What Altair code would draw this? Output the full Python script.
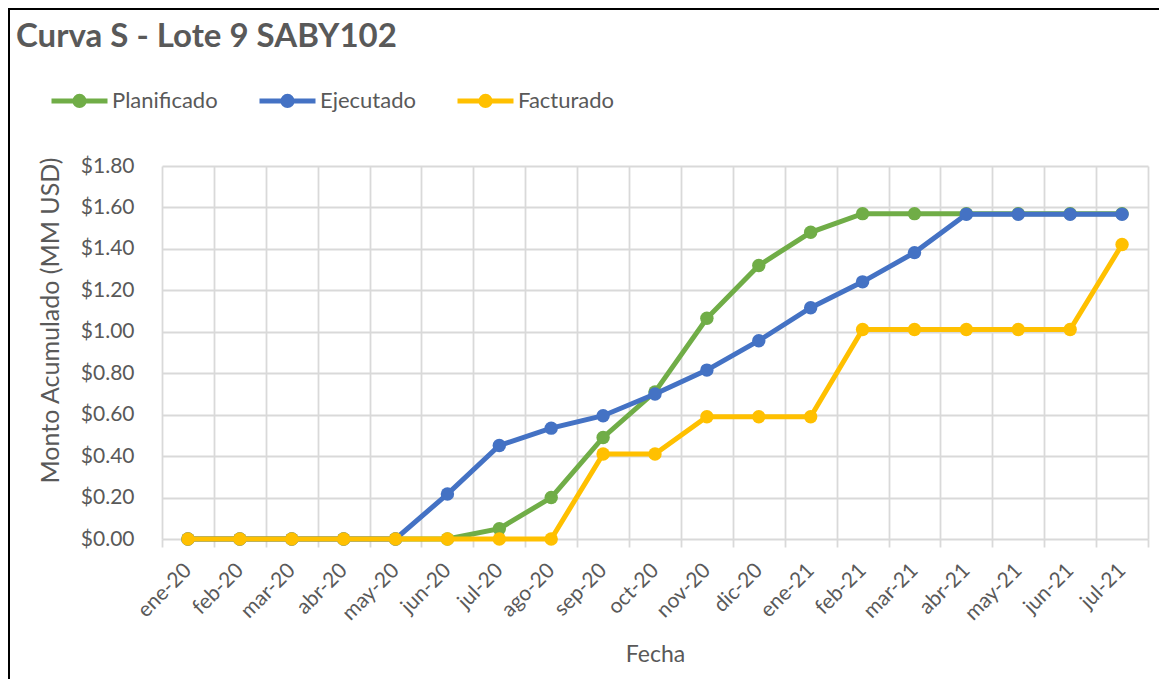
import altair as alt
import pandas as pd

# ---- data ----
months = ["ene-20", "feb-20", "mar-20", "abr-20", "may-20", "jun-20", "jul-20",
          "ago-20", "sep-20", "oct-20", "nov-20", "dic-20", "ene-21", "feb-21",
          "mar-21", "abr-21", "may-21", "jun-21", "jul-21"]
planificado = [0, 0, 0, 0, 0, 0, 0.05, 0.20, 0.49, 0.71, 1.065, 1.32, 1.48,
               1.57, 1.57, 1.57, 1.57, 1.57, 1.57]
ejecutado = [0, 0, 0, 0, 0, 0.217, 0.451, 0.535, 0.595, 0.70, 0.815, 0.957,
             1.116, 1.241, 1.382, 1.567, 1.567, 1.567, 1.567]
facturado = [0, 0, 0, 0, 0, 0, 0, 0, 0.41, 0.41, 0.59, 0.59, 0.59, 1.011,
             1.011, 1.011, 1.011, 1.011, 1.421]
series_names = ["Planificado", "Ejecutado", "Facturado"]
series_colors = ["#70AD47", "#4472C4", "#FFC000"]
y_ticks = [0, 0.2, 0.4, 0.6, 0.8, 1.0, 1.2, 1.4, 1.6, 1.8]

rows = []
for name, vals in zip(series_names, [planificado, ejecutado, facturado]):
    for m, v in zip(months, vals):
        rows.append({"Fecha": m, "Serie": name, "Monto": v})
df = pd.DataFrame(rows)

FONT = "Lato"
TXT = "#595959"
GRID = "#D9D9D9"

W, H = 986, 373
PAD = {"left": 154, "top": 158, "right": 11, "bottom": 140}

legend_path = ("M-1,0L1,0"
               "M0.164,0A0.164,0.164 0 1 1 -0.164,0A0.164,0.164 0 1 1 0.164,0"
               "M0.08,0A0.08,0.08 0 1 1 -0.08,0A0.08,0.08 0 1 1 0.08,0")

color = alt.Color(
    "Serie:N",
    scale=alt.Scale(domain=series_names, range=series_colors),
    legend=alt.Legend(
        title=None, orient="none", direction="horizontal",
        legendX=-113, legendY=-96,
        symbolType=legend_path, symbolSize=3136, symbolStrokeWidth=5,
        labelFont=FONT, labelFontSize=22, labelColor=TXT, labelOffset=2,
        columnPadding=31,
    ),
)

x = alt.X(
    "Fecha:N", sort=months,
    scale=alt.Scale(type="band", paddingInner=0, paddingOuter=0),
    axis=alt.Axis(
        title="Fecha", tickBand="extent", grid=True, gridColor=GRID, gridWidth=1.8,
        domain=False, ticks=True, tickColor=GRID, tickWidth=1.8, tickSize=8,
        labelAngle=-45, labelAlign="right", labelBaseline="middle", labelPadding=20,
        labelFont=FONT, labelFontSize=21, labelColor=TXT,
        titleFont=FONT, titleFontSize=23, titleFontWeight="normal", titleColor=TXT,
        titlePadding=20,
    ),
)
y = alt.Y(
    "Monto:Q",
    scale=alt.Scale(domain=[0, 1.8], nice=False),
    axis=alt.Axis(
        title="Monto Acumulado (MM USD)", values=y_ticks, format="$.2f",
        grid=True, gridColor=GRID, gridWidth=1.8, domain=False, ticks=False,
        labelPadding=28, labelFont=FONT, labelFontSize=21, labelColor=TXT,
        titleFont=FONT, titleFontSize=25, titleFontWeight="normal", titleColor=TXT,
        titlePadding=17, titleY=154,
    ),
)

base = alt.Chart(df).encode(x=x, y=y, color=color)
layers = []
for name in series_names:
    layers.append(
        base.transform_filter(alt.datum.Serie == name).mark_line(
            strokeWidth=5,
            point=alt.OverlayMarkDef(filled=True, size=180, opacity=1),
        )
    )

frame_df = pd.DataFrame({"b": [0]})
left_border = alt.Chart(frame_df).mark_rule(color="black", strokeWidth=2).encode(
    x=alt.value(-153), y=alt.value(-158), y2=alt.value(H + PAD["bottom"]))
top_border = alt.Chart(frame_df).mark_rule(color="black", strokeWidth=2).encode(
    x=alt.value(-154), x2=alt.value(W + PAD["right"]), y=alt.value(-157))

chart = alt.layer(*layers, left_border, top_border).properties(
    width=W, height=H,
    autosize=alt.AutoSizeParams(type="none"),
    padding=PAD,
    background="white",
    title=alt.TitleParams(
        "Curva S - Lote 9 SABY102", anchor="start", frame="group",
        font=FONT, fontSize=33, fontWeight="bold", color=TXT,
        baseline="alphabetic", offset=0, dx=-146, dy=73,
    ),
).configure_view(stroke=None)

chart.save("out.html", embed_options={"renderer": "svg", "actions": False})
